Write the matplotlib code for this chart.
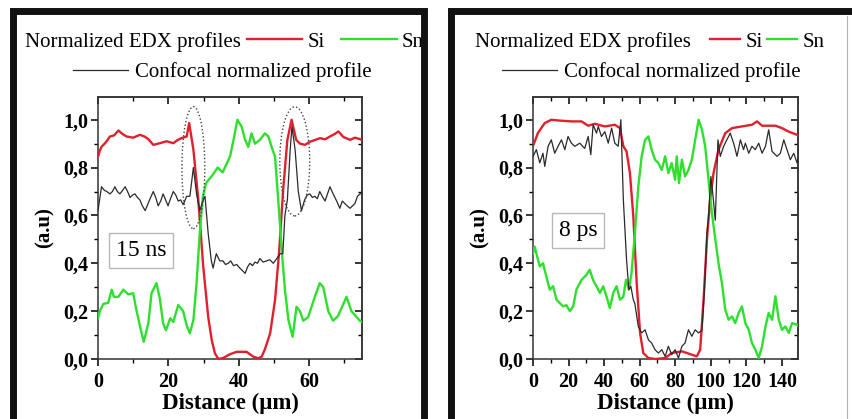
import matplotlib
matplotlib.use("Agg")
import matplotlib.pyplot as plt
from matplotlib.patches import Rectangle, Ellipse
from matplotlib.lines import Line2D
from matplotlib.ticker import MultipleLocator, FuncFormatter

plt.rcParams['font.family'] = ['Liberation Serif', 'DejaVu Serif']

# ---------------- data: left panel (15 ns) ----------------
ns_si_x = [0, 0.5, 1, 2.2, 3.4, 4.6, 5.8, 7.0, 8.1, 10.0, 11.9, 13.2, 14.3, 15.7, 17.6, 19.5, 21.4, 22.6, 23.7, 25.2,
           25.9, 27.1, 28.5, 29.9, 31.3, 32.3, 33.2, 34.2, 35.5, 37.5, 39.4, 42.2, 44.1, 45.5, 46.5, 47.4, 48.9, 50.3,
           51.5, 52.6, 53.8, 55.0, 56.3, 57.4, 58.8, 60.2, 61.6, 63.1, 64.5, 65.9, 67.2, 68.3, 69.7, 71.6, 73.0, 74.4, 75]
ns_si_y = [0.845, 0.87, 0.887, 0.905, 0.93, 0.935, 0.955, 0.94, 0.93, 0.925, 0.937, 0.93, 0.919, 0.895, 0.902, 0.91,
           0.902, 0.915, 0.923, 0.93, 0.986, 0.875, 0.665, 0.386, 0.177, 0.08, 0.024, 0.0, 0.004, 0.02, 0.03, 0.03,
           0.01, 0.003, 0.01, 0.04, 0.107, 0.247, 0.456, 0.707, 0.916, 1.0, 0.916, 0.9, 0.895, 0.908, 0.915, 0.923,
           0.918, 0.93, 0.94, 0.951, 0.928, 0.916, 0.925, 0.919, 0.915]

ns_sn_x = [0, 0.5, 1.5, 2.9, 3.9, 4.5, 5.8, 7.2, 8.6, 10, 10.9, 12.4, 13, 14.3, 15.2, 16.6, 17.6, 18.5, 19.3, 20.5,
           21.4, 22.8, 24.2, 25.2, 26.1, 27.1, 28, 28.9, 29.8, 30.7, 32.6, 34, 35.4, 37.5, 38.5, 39.6, 40.8, 41.8,
           42.7, 43.6, 44.6, 46, 47.4, 48.4, 49.3, 50.3, 51.2, 52.2, 53.1, 54.1, 55.3, 56.4, 57.4, 58.3, 59.7, 61.6,
           63, 64, 65.4, 66.8, 68.2, 70.6, 72, 74.4, 75]
ns_sn_y = [0.17, 0.2, 0.23, 0.235, 0.29, 0.26, 0.26, 0.29, 0.27, 0.275, 0.205, 0.107, 0.072, 0.149, 0.275, 0.317,
           0.25, 0.149, 0.12, 0.17, 0.155, 0.226, 0.2, 0.14, 0.107, 0.163, 0.317, 0.525, 0.68, 0.735, 0.77, 0.8,
           0.78, 0.846, 0.916, 1.0, 0.971, 0.916, 0.887, 0.943, 0.9, 0.916, 0.943, 0.93, 0.887, 0.845, 0.665, 0.456,
           0.29, 0.163, 0.093, 0.218, 0.2, 0.16, 0.175, 0.26, 0.317, 0.3, 0.2, 0.16, 0.18, 0.26, 0.2, 0.16, 0.155]

ns_cf_x = [0, 1, 1.8, 2.5, 3.4, 4.1, 4.8, 5.5, 6.2, 7.0, 7.7, 8.4, 9.1, 9.8, 10.5, 11.2, 11.9, 12.6, 13.4, 14.1, 14.8,
           15.7, 16.4, 17.1, 17.8, 18.5, 19.2, 19.9, 20.6, 21.4, 22.1, 22.8, 23.5, 24.2, 25.2, 26.1, 27.1, 28, 28.9,
           29.9, 30.4, 31.3, 32.2, 32.7, 33.6, 34.1, 34.6, 35.5, 36.2, 37, 37.7, 38.5, 39.4, 40.3, 41.0, 41.8, 42.5,
           43.2, 43.9, 44.6, 45.3, 46, 46.9, 47.9, 48.8, 49.8, 50.8, 51.7, 52.5, 53.1, 53.8, 54.6, 55.1, 56, 56.9,
           57.8, 58.7, 59.4, 60.2, 60.9, 61.6, 62.3, 63, 63.7, 64.5, 65.2, 65.9, 66.8, 67.8, 68.7, 69.4, 70.1, 70.8,
           71.6, 72.3, 73, 73.7, 74.4, 75]
ns_cf_y = [0.62, 0.72, 0.705, 0.70, 0.69, 0.70, 0.72, 0.70, 0.69, 0.705, 0.72, 0.70, 0.675, 0.685, 0.69, 0.675, 0.665,
           0.64, 0.62, 0.645, 0.67, 0.70, 0.675, 0.64, 0.66, 0.69, 0.665, 0.64, 0.67, 0.70, 0.685, 0.66, 0.665, 0.645,
           0.68, 0.68, 0.80, 0.69, 0.62, 0.665, 0.68, 0.525, 0.41, 0.38, 0.44, 0.425, 0.41, 0.41, 0.395, 0.40, 0.41,
           0.39, 0.395, 0.38, 0.37, 0.358, 0.385, 0.40, 0.39, 0.405, 0.40, 0.42, 0.405, 0.41, 0.415, 0.40, 0.42, 0.44,
           0.44, 0.6, 0.665, 0.874, 0.971, 0.874, 0.70, 0.62, 0.665, 0.685, 0.69, 0.675, 0.68, 0.67, 0.70, 0.68, 0.66,
           0.69, 0.72, 0.69, 0.66, 0.63, 0.66, 0.65, 0.64, 0.63, 0.64, 0.65, 0.68, 0.69, 0.69]

# ---------------- data: right panel (8 ps) ----------------
ps_si_x = [0, 2.8, 6.6, 10.3, 14.1, 21.6, 27.3, 31, 34.8, 40.4, 46, 48.9, 50.8, 52.6, 54.5, 56.4, 58.3, 60.2, 62,
           64.9, 68.6, 74.3, 78, 83.7, 89.3, 92.1, 94, 95.9, 97.8, 99.6, 101.5, 104.3, 108.1, 111.9, 117.5, 123.1,
           126, 128.8, 132.5, 136.3, 140, 143.8, 148.5, 149]
ps_si_y = [0.89, 0.945, 0.986, 1.0, 0.997, 0.993, 0.993, 0.975, 0.983, 0.972, 0.979, 0.965, 0.889, 0.868, 0.777,
           0.596, 0.318, 0.109, 0.025, 0.004, 0.0, 0.004, 0.025, 0.032, 0.018, 0.011, 0.039, 0.248, 0.5, 0.666, 0.777,
           0.875, 0.944, 0.965, 0.972, 0.979, 0.993, 0.975, 0.975, 0.975, 0.965, 0.95, 0.937, 0.935]

ps_cf_x = [0, 1.9, 3.8, 5.6, 6.6, 8.5, 10.3, 12.2, 14.1, 16, 17.9, 19.7, 21.6, 23.5, 26.3, 29.1, 31, 32.5, 33.8, 35.7,
           36.7, 38.5, 40.4, 42.3, 44.2, 46, 47.9, 49.4, 50.8, 52.6, 53.9, 55, 56.4, 57.3, 59.2, 61.1, 63, 64.9, 66.7,
           68.6, 70.5, 72.4, 74.3, 76.1, 78, 79.9, 81.8, 83.7, 85.5, 87.4, 89.3, 91.2, 93.1, 95, 96.4, 97.8, 98.7,
           100, 101.1, 102.5, 104, 105.3, 107.2, 109, 110.9, 112.8, 114.7, 116.6, 118.4, 119.4, 121.3, 123.1, 125,
           126.9, 128.8, 130.7, 132.5, 134.4, 137.2, 139.1, 141, 142.8, 144.7, 146.6, 148.5, 149]
ps_cf_y = [0.847, 0.875, 0.82, 0.86, 0.805, 0.889, 0.916, 0.86, 0.889, 0.916, 0.875, 0.93, 0.902, 0.889, 0.902, 0.88,
           0.93, 0.854, 0.979, 0.944, 0.972, 0.93, 0.95, 0.902, 0.965, 0.902, 0.889, 1.0, 0.666, 0.415, 0.29, 0.304,
           0.248, 0.23, 0.136, 0.109, 0.122, 0.08, 0.067, 0.039, 0.025, 0.039, 0.011, 0.053, 0.018, 0.039, 0.004,
           0.053, 0.067, 0.122, 0.095, 0.122, 0.109, 0.12, 0.29, 0.526, 0.596, 0.763, 0.69, 0.58, 0.916, 0.847, 0.889,
           0.916, 0.944, 0.902, 0.847, 0.916, 0.875, 0.902, 0.86, 0.889, 0.875, 0.902, 0.86, 0.889, 0.958, 0.868,
           0.847, 0.86, 0.916, 0.875, 0.833, 0.86, 0.819, 0.84]

ps_sn_x = [0, 0.9, 3.8, 5.6, 7.5, 9.4, 11.3, 13.2, 15, 16.9, 18.8, 20.7, 22.6, 24.4, 27.3, 30.1, 31.9, 33.8, 35.7,
           37.6, 39.5, 41.3, 43.2, 45.1, 47, 48.9, 50.8, 52.3, 53.9, 55.4, 57.3, 59.2, 61.1, 63, 64.9, 66.7, 68.6,
           70.5, 72.4, 74.3, 76.1, 78, 79.9, 80.8, 82.1, 83.7, 85.5, 87.4, 89.3, 91.2, 93.1, 95, 96.8, 98.7, 100.6,
           102.5, 104.3, 106.2, 108.1, 110, 111.9, 113.7, 115.6, 117.5, 119.4, 121.3, 123.1, 125, 126.9, 128.8, 130.7,
           132.5, 134.4, 136.3, 138.2, 140, 141.9, 143.8, 145.7, 148.5, 149]
ps_sn_y = [0.44, 0.47, 0.387, 0.40, 0.345, 0.29, 0.304, 0.248, 0.234, 0.22, 0.225, 0.2, 0.22, 0.29, 0.331, 0.352,
           0.373, 0.33, 0.304, 0.276, 0.304, 0.262, 0.213, 0.276, 0.304, 0.248, 0.26, 0.331, 0.29, 0.36, 0.526, 0.72,
           0.847, 0.916, 0.93, 0.875, 0.833, 0.819, 0.79, 0.847, 0.777, 0.819, 0.749, 0.847, 0.735, 0.833, 0.763,
           0.79, 0.833, 0.916, 1.0, 0.958, 0.889, 0.749, 0.61, 0.5, 0.4, 0.318, 0.206, 0.164, 0.178, 0.15, 0.192,
           0.22, 0.15, 0.122, 0.067, 0.039, 0.004, 0.053, 0.136, 0.192, 0.164, 0.262, 0.164, 0.122, 0.136, 0.109,
           0.15, 0.143, 0.14]

# highlighted regions (dotted ellipses) in the 15 ns panel: (x center, y center, width, height)
ns_highlights = [(27.1, 0.80, 6.5, 0.51), (55.9, 0.826, 8.5, 0.456)]

panel_labels = ["15 ns", "8 ps"]
label_y = [0.452, 0.538]
x_limits = [(0, 75), (0, 149)]
x_major = [20, 20]

RED = '#e0202c'
GREEN = '#2de02d'
BLACK = '#2a2a2a'

W, H = 853, 419
fig = plt.figure(figsize=(W / 100, H / 100), dpi=100)

def fx(px):
    return px / W

def fy(py):
    return 1 - py / H

# panel frames
for (x0, x1) in [(13.5, 424.5), (451, 870)]:
    fig.patches.append(Rectangle((fx(x0), fy(440)), fx(x1) - fx(x0), fy(11) - fy(440),
                                 transform=fig.transFigure, fill=False, lw=5.0, ec='#111111', zorder=0))
fig.add_artist(Line2D([fx(847), fx(847)], [fy(16), fy(419)], color='#b0b0b0', lw=0.8))

ax_pos = [(98, 362), (533, 798)]
comma = FuncFormatter(lambda v, p: f"{v:.1f}".replace('.', ','))

axes = []
for i, (l, r) in enumerate(ax_pos):
    ax = fig.add_axes([fx(l), fy(359), fx(r) - fx(l), fy(97) - fy(359)])
    axes.append(ax)
    ax.set_xlim(*x_limits[i])
    ax.set_ylim(0, 1.095)
    ax.xaxis.set_major_locator(MultipleLocator(x_major[i]))
    ax.xaxis.set_minor_locator(MultipleLocator(x_major[i] / 2))
    ax.yaxis.set_major_locator(MultipleLocator(0.2))
    ax.yaxis.set_minor_locator(MultipleLocator(0.1))
    ax.yaxis.set_major_formatter(comma)
    ax.tick_params(which='major', direction='out', length=5, width=1.1, labelsize=14.5, pad=2)
    ax.tick_params(axis='x', which='major', pad=4)
    ax.tick_params(which='minor', direction='out', length=3, width=1.0)
    for lab in ax.get_xticklabels() + ax.get_yticklabels():
        lab.set_fontweight('bold')
    for s in ax.spines.values():
        s.set_linewidth(1.1)
        s.set_color('#333333')
    # inward ticks on top and right
    top = ax.secondary_xaxis('top')
    top.xaxis.set_major_locator(MultipleLocator(x_major[i]))
    top.xaxis.set_minor_locator(MultipleLocator(x_major[i] / 2))
    top.tick_params(which='major', direction='in', length=5, width=1.1, labeltop=False)
    top.tick_params(which='minor', direction='in', length=3, width=1.0)
    right = ax.secondary_yaxis('right')
    right.yaxis.set_major_locator(MultipleLocator(0.2))
    right.yaxis.set_minor_locator(MultipleLocator(0.1))
    right.tick_params(which='major', direction='in', length=5, width=1.1, labelright=False)
    right.tick_params(which='minor', direction='in', length=3, width=1.0)
    for sa in (top, right):
        for s in sa.spines.values():
            s.set_linewidth(1.1)
            s.set_color('#333333')
    ax.set_xlabel("Distance (μm)", fontsize=16.5, fontweight='bold', labelpad=1)
    ax.set_ylabel("(a.u)", fontsize=15, fontweight='bold', labelpad=6)
    ax.text(0.163 if i == 0 else 0.17, label_y[i], panel_labels[i],
            transform=ax.get_yaxis_transform(), fontsize=17, ha='center', va='center',
            bbox=dict(boxstyle='square,pad=0.3', fc='white', ec='#b8b8b8', lw=1.0), zorder=6)

ax1, ax2 = axes
ax1.plot(ns_si_x, ns_si_y, color=RED, lw=1.7, zorder=3)
ax1.plot(ns_sn_x, ns_sn_y, color=GREEN, lw=1.7, zorder=3)
ax1.plot(ns_cf_x, ns_cf_y, color=BLACK, lw=0.9, zorder=4)
for (cx, cy, w, h) in ns_highlights:
    ax1.add_patch(Ellipse((cx, cy), w, h, fill=False, ls=(0, (1, 1.6)), lw=1.0, ec='#444444', zorder=5))

ax2.plot(ps_si_x, ps_si_y, color=RED, lw=1.7, zorder=3)
ax2.plot(ps_sn_x, ps_sn_y, color=GREEN, lw=1.7, zorder=3)
ax2.plot(ps_cf_x, ps_cf_y, color=BLACK, lw=0.9, zorder=4)

# legends
FS = 15
leg_specs = [
    dict(text_x=25, si_x=247, cf_x=73, hl=2.65, cs=0.8),
    dict(text_x=475, si_x=710, cf_x=502, hl=1.45, cs=0.2),
]
for ax, spec in zip(axes, leg_specs):
    fig.text(fx(spec['text_x']), fy(42), "Normalized EDX profiles", fontsize=FS, ha='left', va='center')
    h_si = Line2D([], [], color=RED, lw=1.7)
    h_sn = Line2D([], [], color=GREEN, lw=1.7)
    h_cf = Line2D([], [], color=BLACK, lw=0.9)
    lg1 = ax.legend([h_si, h_sn], ["Si", "Sn"], ncol=2, loc='center left',
                    bbox_to_anchor=(fx(spec['si_x']), fy(42)), bbox_transform=fig.transFigure,
                    frameon=False, fontsize=FS, handlelength=spec['hl'], handletextpad=0.25,
                    columnspacing=spec['cs'], borderpad=0, borderaxespad=0)
    ax.add_artist(lg1)
    ax.legend([h_cf], ["Confocal normalized profile"], loc='center left',
              bbox_to_anchor=(fx(spec['cf_x']), fy(72)), bbox_transform=fig.transFigure,
              frameon=False, fontsize=FS, handlelength=2.65, handletextpad=0.35, borderpad=0, borderaxespad=0)

fig.savefig("out.png", dpi=100)
